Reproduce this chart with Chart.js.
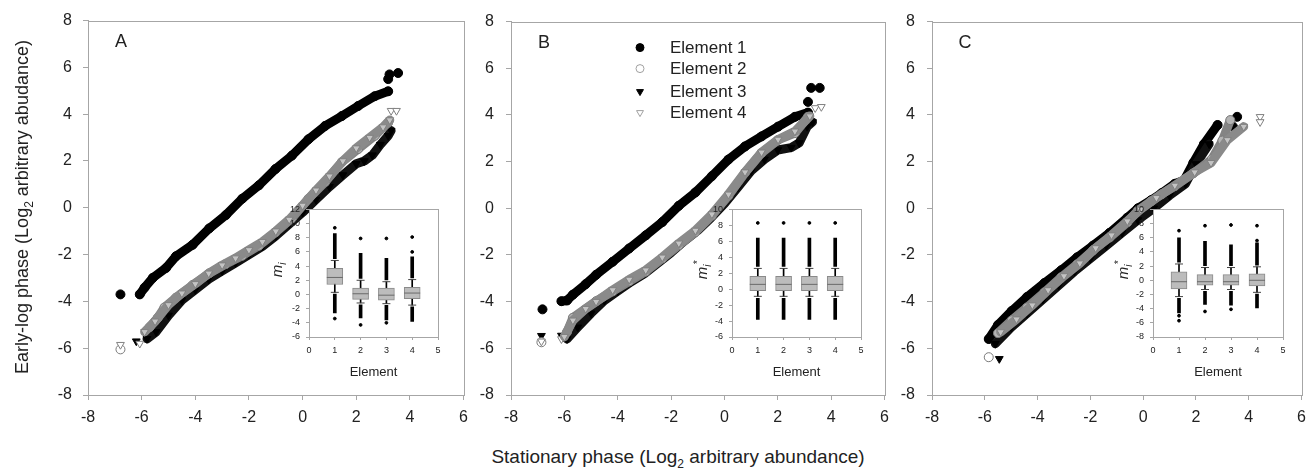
<!DOCTYPE html>
<html>
<head>
<meta charset="utf-8">
<script src="https://cdn.jsdelivr.net/npm/chart.js@4.4.1/dist/chart.umd.min.js"></script>
<style>
  body { margin: 0; background: #fff; width: 1314px; height: 469px; overflow: hidden; position: relative;
         font-family: "Liberation Sans", Arial, sans-serif; color: #222; }
  canvas { position: absolute; }
  .ttl { position: absolute; font-size: 18px; white-space: nowrap; text-align: center; line-height: 22px; }
  .ttl sub { font-size: 12px; line-height: 0; }
  .mt { position: absolute; width: 40px; height: 20px; line-height: 20px; text-align: center;
        font-size: 15px; font-style: italic; transform: rotate(-90deg); white-space: nowrap; }
  .mt sub, .mt sup { font-size: 10px; line-height: 0; }
</style>
</head>
<body>
<canvas id="panelA" width="476" height="430" style="left:0;top:0"></canvas>
<canvas id="panelB" width="421" height="430" style="left:476px;top:0"></canvas>
<canvas id="panelC" width="417" height="430" style="left:897px;top:0"></canvas>
<canvas id="insetA" width="186" height="182" style="left:261px;top:198px"></canvas>
<canvas id="insetB" width="186" height="182" style="left:684px;top:198px"></canvas>
<canvas id="insetC" width="187" height="182" style="left:1105px;top:198px"></canvas>

<div class="ttl" style="left:-168px;top:196px;width:380px;transform:rotate(-90deg)">Early-log phase (Log<sub>2</sub> arbitrary abudance)</div>
<div class="ttl" style="left:428px;top:446px;width:500px;font-size:19px">Stationary phase (Log<sub>2</sub> arbitrary abundance)</div>
<div class="mt" style="left:257px;top:260px">m<sub>i</sub></div>
<div class="mt" style="left:682px;top:260px">m<sub>i</sub><sup>*</sup></div>
<div class="mt" style="left:1103px;top:260px">m<sub>i</sub><sup>*</sup></div>

<script>
// --- dados: [x, y] ao longo de cada curva, e pontos isolados nas pontas ---
const seriesLabels = ['Element 1', 'Element 2', 'Element 3', 'Element 4'];
const xTicks = [-8, -6, -4, -2, 0, 2, 4, 6];
const yTicks = [-8, -6, -4, -2, 0, 2, 4, 6, 8];

// Painel A
const a1Curve = [[-6.07,-3.70],[-5.89,-3.41],[-5.58,-2.99],[-5.09,-2.57],[-4.72,-2.07],[-4.10,-1.58],[-3.48,-0.88],[-2.86,-0.31],[-2.25,0.39],[-1.63,0.96],[-1.01,1.66],[-0.40,2.23],[0.22,2.93],[0.84,3.50],[1.46,3.92],[2.07,4.35],[2.69,4.77],[3.19,4.98]];
const a1Ends = [[-6.79,-3.70],[3.19,5.50],[3.24,5.70],[3.56,5.76]];
const a2Curve = [[-5.7,-5.1],[-5.4,-4.7],[-5.15,-4.26],[-4.72,-3.84],[-4.10,-3.30],[-3.48,-2.80],[-2.86,-2.40],[-2.25,-2.05],[-1.63,-1.62],[-1.01,-1.05],[-0.40,-0.45],[0.22,0.39],[0.84,1.10],[1.46,1.95],[2.07,2.51],[2.69,3.08],[3.19,3.64]];
const a2Ends = [[-6.79,-6.05]];
const a3Curve = [[-5.8,-5.6],[-5.46,-5.3],[-5.0,-4.6],[-4.5,-3.95],[-4.0,-3.5],[-3.5,-3.05],[-3.0,-2.7],[-2.5,-2.35],[-2.0,-2.0],[-1.5,-1.65],[-1.0,-1.2],[-0.5,-0.7],[0.0,-0.2],[0.5,0.35],[1.0,0.9],[1.5,1.40],[2.0,1.88],[2.3,2.00],[2.6,2.25],[2.9,2.70],[3.19,3.08],[3.3,3.30]];
const a3Ends = [[-6.2,-5.7]];
const a4Curve = [[-5.89,-5.3],[-5.5,-4.85],[-5.0,-4.15],[-4.5,-3.65],[-4.0,-3.25],[-3.5,-2.8],[-3.0,-2.45],[-2.5,-2.15],[-2.0,-1.8],[-1.5,-1.45],[-1.0,-1.0],[-0.5,-0.5],[0.0,0.1],[0.5,0.75],[1.0,1.35],[1.5,2.00],[2.0,2.55],[2.5,3.00],[3.0,3.45],[3.25,3.75]];
const a4Ends = [[-6.79,-5.85],[-6.07,-5.80],[3.30,4.15],[3.50,4.15]];

// Painel B
const b1Curve = [[-6.11,-3.98],[-5.90,-3.95],[-5.68,-3.70],[-5.20,-3.25],[-4.81,-2.85],[-4.19,-2.29],[-3.57,-1.72],[-2.95,-1.16],[-2.33,-0.59],[-1.71,0.11],[-1.09,0.68],[-0.47,1.38],[0.15,2.09],[0.77,2.65],[1.39,3.08],[2.01,3.50],[2.64,3.92],[3.13,4.10]];
const b1Ends = [[-6.82,-4.33],[3.13,4.56],[3.25,5.16],[3.57,5.16]];
const b2Curve = [[-5.9,-5.3],[-5.68,-4.69],[-4.81,-3.98],[-4.19,-3.56],[-3.57,-3.13],[-2.95,-2.71],[-2.33,-2.15],[-1.71,-1.58],[-1.09,-1.02],[-0.47,-0.31],[0.15,0.54],[0.77,1.52],[1.39,2.37],[2.01,2.93],[2.64,3.22],[3.13,3.92]];
const b2Ends = [[-6.86,-5.74]];
const b3Curve = [[-5.9,-5.6],[-5.5,-5.1],[-5.0,-4.5],[-4.5,-3.95],[-4.0,-3.55],[-3.5,-3.15],[-3.0,-2.8],[-2.5,-2.35],[-2.0,-1.9],[-1.5,-1.4],[-1.0,-0.95],[-0.5,-0.4],[0.0,0.2],[0.5,0.9],[1.0,1.6],[1.5,2.1],[2.0,2.5],[2.5,2.6],[2.8,2.8],[3.1,3.5],[3.3,3.7]];
const b3Ends = [[-6.86,-5.46],[-6.11,-5.45]];
const b4Curve = [[-6.0,-5.5],[-5.68,-4.8],[-5.2,-4.3],[-4.81,-4.0],[-4.19,-3.5],[-3.57,-3.05],[-2.95,-2.65],[-2.33,-2.10],[-1.71,-1.50],[-1.09,-0.95],[-0.47,-0.25],[0.15,0.60],[0.77,1.55],[1.39,2.40],[2.01,2.95],[2.64,3.30],[3.20,3.95]];
const b4Ends = [[-6.86,-5.70],[-6.11,-5.60],[3.40,4.30],[3.63,4.35]];

// Painel C
const c1Curve = [[-5.85,-5.6],[-5.5,-5.0],[-4.98,-4.4],[-4.4,-3.8],[-3.74,-3.2],[-3.1,-2.65],[-2.5,-2.1],[-1.9,-1.6],[-1.27,-1.05],[-0.6,-0.4],[-0.2,0.0],[0.3,0.35],[0.7,0.65],[1.2,1.05],[1.55,1.2],[1.9,1.95],[2.3,2.75],[2.82,3.57]];
const c1Ends = [[3.40,3.50],[3.56,3.92]];
const c2Curve = [[-5.5,-5.35],[-4.98,-4.8],[-4.4,-4.25],[-3.74,-3.6],[-3.1,-2.95],[-2.5,-2.4],[-1.9,-1.8],[-1.27,-1.25],[-0.6,-0.6],[-0.2,-0.1],[0.3,0.3],[0.7,0.6],[1.2,0.95],[1.9,1.5],[2.6,2.1],[3.0,2.9],[3.3,3.78]];
const c2Ends = [[-5.85,-6.38]];
const c3Curve = [[-5.6,-5.8],[-5.0,-5.1],[-4.4,-4.5],[-3.8,-3.9],[-3.2,-3.3],[-2.6,-2.7],[-2.0,-2.15],[-1.4,-1.6],[-0.8,-1.05],[-0.2,-0.5],[0.4,0.0],[1.0,0.55],[1.6,1.05],[2.0,1.9],[2.5,2.75]];
const c3Ends = [[-5.45,-6.45]];
const c4Curve = [[-5.4,-5.3],[-4.8,-4.75],[-4.2,-4.15],[-3.6,-3.5],[-3.0,-2.9],[-2.4,-2.35],[-1.8,-1.7],[-1.2,-1.15],[-0.6,-0.55],[-0.1,-0.05],[0.5,0.45],[1.2,0.98],[1.95,1.55],[2.57,1.95],[3.19,2.93],[3.81,3.50]];
const c4Ends = [[4.43,3.92],[4.43,3.70]];

// Caixas dos insets: [whiskerMin, Q1, mediana, Q3, whiskerMax] por elemento
const insetABox = [[0.3,1.4,2.4,3.7,4.8],[-1.2,-0.7,0.1,0.9,2.0],[-1.3,-0.8,-0.1,0.9,1.8],[-1.5,-0.6,0.2,1.0,2.1]];
const insetARuns = [[-2.6,8.6],[-3.3,5.8],[-3.6,5.1],[-3.8,5.3]];
const insetAExtremes = [[1,9.4],[1,-3.4],[2,7.9],[2,-4.3],[3,7.9],[3,-4.0],[4,8.1],[4,6.0]];
const insetBBox = [[-0.9,-0.2,0.6,1.6,2.6],[-0.9,-0.2,0.6,1.6,2.6],[-0.9,-0.2,0.6,1.6,2.6],[-0.9,-0.2,0.6,1.6,2.6]];
const insetBRuns = [[-3.8,6.4],[-3.8,6.4],[-3.8,6.4],[-3.8,6.4]];
const insetBExtremes = [[1,8.3],[2,8.3],[3,8.3],[4,8.3]];
const insetCBox = [[-2.3,-1.2,-0.2,1.2,2.3],[-1.3,-0.7,-0.2,0.8,1.8],[-1.3,-0.7,-0.2,0.8,1.8],[-1.7,-0.8,0.0,0.9,1.9]];
const insetCRuns = [[-4.6,6.0],[-3.4,5.5],[-3.5,5.0],[-3.9,5.3]];
const insetCExtremes = [[1,7.0],[1,-5.0],[1,-5.7],[2,7.7],[2,-4.4],[3,7.8],[3,-4.1],[4,7.7],[4,5.6]];

const FONT = '"Liberation Sans", Arial, sans-serif';
const AXIS = '#a6a6a6';

// Estilo de cada elemento (endFill = marcador isolado, aberto nos cinzas)
const styles = [
  { pointStyle: 'circle',   rotation: 0,   fill: '#000',    endFill: '#000', stroke: '#000',    band: '#000',    order: 4 },
  { pointStyle: 'circle',   rotation: 0,   fill: '#b4b4b4', endFill: '#fff', stroke: '#7a7a7a', band: '#848484', order: 2 },
  { pointStyle: 'triangle', rotation: 180, fill: '#000',    endFill: '#000', stroke: '#000',    band: '#111',    order: 3 },
  { pointStyle: 'triangle', rotation: 180, fill: '#c4c4c4', endFill: '#fff', stroke: '#808080', band: '#8a8a8a', order: 1 }
];

const toXY = arr => arr.map(p => ({ x: p[0], y: p[1] }));

function buildDatasets(curves, ends) {
  const out = [];
  curves.forEach((curve, i) => {
    const s = styles[i];
    const common = {
      type: 'scatter', pointStyle: s.pointStyle, rotation: s.rotation, pointRadius: 4.5,
      pointBorderColor: s.stroke, pointBorderWidth: 1, order: s.order
    };
    out.push(Object.assign({}, common, {
      label: seriesLabels[i], data: toXY(curve), showLine: true, pointBackgroundColor: s.fill,
      borderColor: s.band, borderWidth: 9, borderCapStyle: 'round', borderJoinStyle: 'round'
    }));
    out.push(Object.assign({}, common, {
      label: seriesLabels[i] + ' ends', data: toXY(ends[i]), showLine: false, pointBackgroundColor: s.endFill
    }));
  });
  return out;
}

// Moldura, letra do painel e legenda (só no B)
function panelDecor(letter, withLegend) {
  return {
    id: 'decor' + letter,
    beforeDatasetsDraw(chart) {
      const { ctx, chartArea: a } = chart;
      ctx.save();
      ctx.strokeStyle = AXIS;
      ctx.lineWidth = 1;
      ctx.strokeRect(Math.round(a.left) + 0.5, Math.round(a.top) + 0.5, Math.round(a.right - a.left), Math.round(a.bottom - a.top));
      ctx.fillStyle = '#222';
      ctx.font = '18px ' + FONT;
      ctx.textAlign = 'center';
      ctx.textBaseline = 'middle';
      ctx.fillText(letter, a.left + 33, a.top + 21);
      ctx.restore();
    },
    afterDraw(chart) {
      if (!withLegend) return;
      const { ctx, chartArea: a } = chart;
      const rows = [26, 47, 70, 91];
      ctx.save();
      rows.forEach((dy, i) => {
        const s = styles[i];
        ctx.fillStyle = i === 1 || i === 3 ? '#fff' : s.fill;
        ctx.strokeStyle = i === 1 || i === 3 ? '#a0a0a0' : s.stroke;
        ctx.lineWidth = 1;
        Chart.helpers.drawPoint(ctx, { pointStyle: s.pointStyle, radius: 4, rotation: s.rotation, borderWidth: 1 }, a.left + 129, a.top + dy);
        ctx.fillStyle = '#222';
        ctx.font = '17px ' + FONT;
        ctx.textAlign = 'left';
        ctx.textBaseline = 'middle';
        ctx.fillText(seriesLabels[i], a.left + 159, a.top + dy + 1);
      });
      ctx.restore();
    }
  };
}

function mainPanel(id, curves, ends, letter, yWidth, yPad, withLegend) {
  new Chart(document.getElementById(id), {
    type: 'scatter',
    data: { datasets: buildDatasets(curves, ends) },
    options: {
      responsive: false,
      animation: false,
      layout: { padding: { left: 0, right: id === 'panelC' ? 5 : 10, top: 17, bottom: 0 } },
      plugins: { legend: { display: false }, tooltip: { enabled: false } },
      scales: {
        x: {
          type: 'linear', min: -8, max: 6,
          afterBuildTicks: s => { s.ticks = xTicks.map(v => ({ value: v })); },
          afterFit: s => { s.height = 35; },
          ticks: { font: { size: 16, family: FONT }, color: '#222', padding: 8 },
          grid: { drawOnChartArea: false, drawTicks: true, tickLength: 5, color: AXIS },
          border: { color: AXIS }
        },
        y: {
          type: 'linear', min: -8, max: 8,
          afterBuildTicks: s => { s.ticks = yTicks.map(v => ({ value: v })); },
          afterFit: s => { s.width = yWidth; },
          ticks: { font: { size: 16, family: FONT }, color: '#222', padding: yPad },
          grid: { drawOnChartArea: false, drawTicks: true, tickLength: 5, color: AXIS },
          border: { color: AXIS }
        }
      }
    },
    plugins: [panelDecor(letter, withLegend)]
  });
}

function insetPanel(id, yMin, yMax, box, runs, extremes) {
  const pos = box.map((b, i) => i + 1);
  const datasets = [
    { type: 'bar', label: 'whisker', grouped: false, order: 5, barThickness: 1, backgroundColor: '#000',
      data: box.map((b, i) => ({ x: pos[i], y: [b[0], b[4]] })) },
    { type: 'bar', label: 'upper run', grouped: false, order: 5, barThickness: 3, backgroundColor: '#000',
      data: runs.map((r, i) => ({ x: pos[i], y: [box[i][4] + 0.25, r[1]] })) },
    { type: 'bar', label: 'lower run', grouped: false, order: 5, barThickness: 3, backgroundColor: '#000',
      data: runs.map((r, i) => ({ x: pos[i], y: [r[0], box[i][0] - 0.25] })) },
    { type: 'bar', label: 'box', grouped: false, order: 3, barThickness: 16, backgroundColor: '#bcbcbc',
      borderColor: '#8a8a8a', borderWidth: 1, borderSkipped: false,
      data: box.map((b, i) => ({ x: pos[i], y: [b[1], b[3]] })) },
    { type: 'scatter', label: 'median', order: 1, pointStyle: 'line', pointRadius: 8, borderColor: '#6a6a6a', borderWidth: 1,
      data: box.map((b, i) => ({ x: pos[i], y: b[2] })) },
    { type: 'scatter', label: 'caps', order: 1, pointStyle: 'line', pointRadius: 4, borderColor: '#444', borderWidth: 1,
      data: box.flatMap((b, i) => [{ x: pos[i], y: b[0] }, { x: pos[i], y: b[4] }]) },
    { type: 'scatter', label: 'extremes', order: 1, pointStyle: 'circle', pointRadius: 1.4, backgroundColor: '#000', borderColor: '#000',
      data: toXY(extremes) }
  ];
  new Chart(document.getElementById(id), {
    type: 'scatter',
    data: { datasets },
    options: {
      responsive: false,
      animation: false,
      layout: { padding: { left: 0, right: 8, top: 8, bottom: 0 } },
      plugins: { legend: { display: false }, tooltip: { enabled: false } },
      scales: {
        x: {
          type: 'linear', min: 0, max: 5, offset: false,
          afterFit: s => { s.height = 43; },
          ticks: { stepSize: 1, font: { size: 9, family: FONT }, color: '#222', padding: 5 },
          grid: { drawOnChartArea: false, drawTicks: true, tickLength: 3, color: AXIS, offset: false },
          border: { color: AXIS },
          title: { display: true, text: 'Element', font: { size: 13, family: FONT }, color: '#222', padding: { top: 3, bottom: 0 } }
        },
        y: {
          type: 'linear', min: yMin, max: yMax,
          afterFit: s => { s.width = 48; },
          ticks: { stepSize: 2, font: { size: 9, family: FONT }, color: '#222', padding: 6 },
          grid: { drawOnChartArea: false, drawTicks: true, tickLength: 3, color: AXIS },
          border: { color: AXIS }
        }
      }
    },
    plugins: [{
      id: 'insetFrame',
      beforeDraw(chart) {
        const { ctx, chartArea: a } = chart;
        ctx.save();
        ctx.fillStyle = '#fff';
        ctx.fillRect(a.left, a.top, a.right - a.left, a.bottom - a.top);
        ctx.strokeStyle = AXIS;
        ctx.lineWidth = 1;
        ctx.strokeRect(Math.round(a.left) + 0.5, Math.round(a.top) + 0.5, Math.round(a.right - a.left), Math.round(a.bottom - a.top));
        ctx.restore();
      }
    }]
  });
}

mainPanel('panelA', [a1Curve, a2Curve, a3Curve, a4Curve], [a1Ends, a2Ends, a3Ends, a4Ends], 'A', 88, 11, false);
mainPanel('panelB', [b1Curve, b2Curve, b3Curve, b4Curve], [b1Ends, b2Ends, b3Ends, b4Ends], 'B', 35, 12, true);
mainPanel('panelC', [c1Curve, c2Curve, c3Curve, c4Curve], [c1Ends, c2Ends, c3Ends, c4Ends], 'C', 35, 12, false);

insetPanel('insetA', -6, 12, insetABox, insetARuns, insetAExtremes);
insetPanel('insetB', -6, 10, insetBBox, insetBRuns, insetBExtremes);
insetPanel('insetC', -8, 10, insetCBox, insetCRuns, insetCExtremes);
</script>
</body>
</html>
